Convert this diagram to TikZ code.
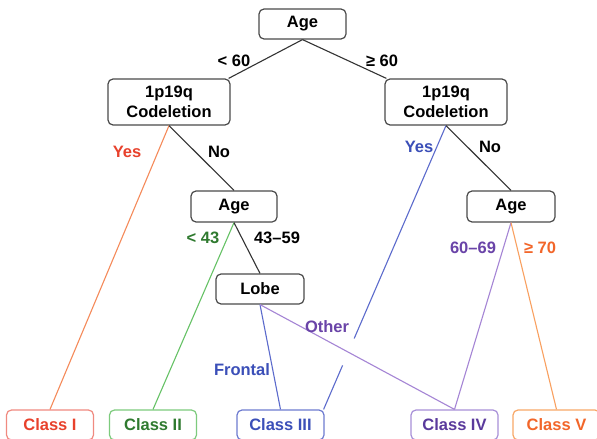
\documentclass[tikz,border=0pt]{standalone}
\usepackage{fontspec}
\setmainfont{Liberation Sans}
\usetikzlibrary{calc}
\definecolor{boxgray}{HTML}{4A4A4A}
\definecolor{dk}{HTML}{333333}
\definecolor{redT}{HTML}{E8412C}
\definecolor{redL}{HTML}{F58A5A}
\definecolor{redB}{HTML}{F08A80}
\definecolor{grnT}{HTML}{2F7A2F}
\definecolor{grnL}{HTML}{66C266}
\definecolor{grnB}{HTML}{7DCB7D}
\definecolor{bluT}{HTML}{3B4FB8}
\definecolor{bluL}{HTML}{5C6BCC}
\definecolor{bluB}{HTML}{6E7BD0}
\definecolor{purT}{HTML}{5A3A9C}
\definecolor{purL}{HTML}{A585D5}
\definecolor{purB}{HTML}{A890D8}
\definecolor{purT2}{HTML}{6A44A8}
\definecolor{orgT}{HTML}{F2662A}
\definecolor{orgL}{HTML}{F9A060}
\definecolor{orgB}{HTML}{F8A868}
\begin{document}
\begin{tikzpicture}[x=1pt,y=-1pt,
  txt/.style={font=\fontsize{16.5}{19.5}\selectfont\bfseries},
  box/.style={txt, draw=boxgray, line width=1.2pt, rounded corners=5pt, fill=white, align=center, inner sep=0pt},
  cls/.style={txt, draw=#1, line width=1.2pt, rounded corners=5pt, fill=white, inner sep=0pt, minimum width=87pt, minimum height=30pt},
  lbl/.style={txt, inner sep=0pt},
  con/.style={line width=1.1pt, draw=#1}]
\clip (0,0) rectangle (597,439);
\fill[white] (0,0) rectangle (597,439);
% decision nodes
\node[box, minimum width=87pt, minimum height=30pt] (age) at (302.5,24) {Age};
\node[box, minimum width=122pt, minimum height=46pt] (l1) at (169,102) {1p19q\\Codeletion};
\node[box, minimum width=122pt, minimum height=46pt] (r1) at (446,102) {1p19q\\Codeletion};
\node[box, minimum width=86pt, minimum height=31pt] (mage) at (234,206.5) {Age};
\node[box, minimum width=88pt, minimum height=31pt] (rage) at (511,206.5) {Age};
\node[box, minimum width=88pt, minimum height=30pt] (lobe) at (260,289) {Lobe};
% class nodes
\node[cls=redB, text=redT] (c1) at (50,425) {Class I};
\node[cls=grnB, text=grnT] (c2) at (153,425) {Class II};
\node[cls=bluB, text=bluT] (c3) at (280.5,425) {Class III};
\node[cls=purB, text=purT] (c4) at (454.5,425) {Class IV};
\node[cls=orgB, text=orgT] (c5) at (556.5,425) {Class V};
% connectors
\draw[con=dk] (age.south) -- ($(l1.north east)+(-2,0)$);
\draw[con=dk] (age.south) -- ($(r1.north west)+(2,0)$);
\draw[con=redL] (l1.south) -- (c1.north);
\draw[con=dk] (l1.south) -- (mage.north);
\draw[con=grnL] (mage.south) -- (c2.north);
\draw[con=dk] (mage.south) -- (lobe.north);
\draw[con=bluL] (lobe.south) -- (c3.north);
\draw[con=purL] (lobe.south) -- (c4.north);
\coordinate (c3ne) at ($(c3.north east)+(-1,0)$);
\path (r1.south) -- coordinate[pos=0.75] (g1) coordinate[pos=0.845] (g2) (c3ne);
\draw[con=bluL] (r1.south) -- (g1);
\draw[con=bluL] (g2) -- (c3ne);
\draw[con=dk] (r1.south) -- (rage.north);
\draw[con=purL] (rage.south) -- (c4.north);
\draw[con=orgL] (rage.south) -- (c5.north);
% labels
\node[lbl] (t1) at (234,61) {< 60};
\node[lbl] (t2) at (382,61) {≥ 60};
\node[lbl, text=redT] (t3) at (127,152) {Yes};
\node[lbl] (t4) at (219,152) {No};
\node[lbl, text=bluT] (t5) at (419,147) {Yes};
\node[lbl] (t6) at (490,147) {No};
\node[lbl, text=grnT] (t7) at (203,238) {< 43};
\node[lbl] (t8) at (277,238) {43–59};
\node[lbl, text=purT2] (t9) at (473,248) {60–69};
\node[lbl, text=orgT] (t10) at (540,248) {≥ 70};
\node[lbl, text=bluT] (t11) at (242,370) {Frontal};
\node[lbl, text=purT2] (t12) at (327,327) {Other};
\end{tikzpicture}
\end{document}
